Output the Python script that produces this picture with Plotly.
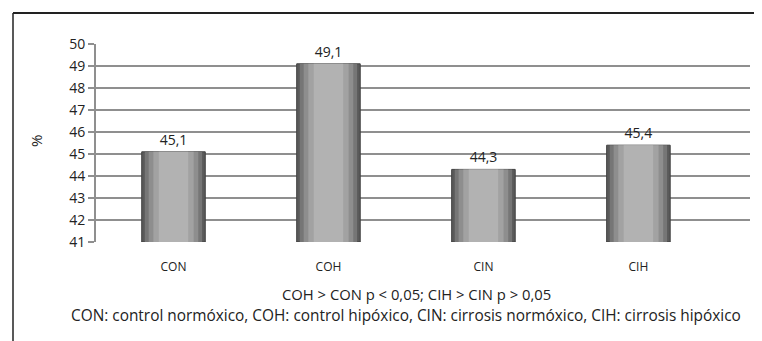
import plotly.graph_objects as go

categories = ["CON", "COH", "CIN", "CIH"]
values = [45.1, 49.1, 44.3, 45.4]
value_labels = ["45,1", "49,1", "44,3", "45,4"]
y_ticks = [41, 42, 43, 44, 45, 46, 47, 48, 49, 50]

BASE = 41
heights = [v - BASE for v in values]
xs = list(range(len(categories)))

# page body has an 8px margin; size the figure to fit the 762x341 window
OFF = 8
W, H = 762 - OFF, 341 - OFF
L, R, T, B = 96 - OFF, 12, 44 - OFF, 99
PW, PH = W - L - R, H - T - B


def px(xpix):
    return (xpix - OFF - L) / PW


def py(ypix):
    return (T + PH - (ypix - OFF)) / PH


FONT = "Open Sans"

fig = go.Figure()
layers = [
    (0.41, "#5a5a5a"),
    (0.37, "#767676"),
    (0.32, "#8e8e8e"),
    (0.26, "#a2a2a2"),
    (0.19, "#b2b2b2"),
]
for i, (w, c) in enumerate(layers):
    fig.add_trace(go.Bar(
        x=xs, y=heights, base=BASE, width=w,
        marker=dict(color=c, line=dict(color="#404040", width=1 if i == 0 else 0)),
        hoverinfo="skip", showlegend=False,
        text=value_labels if i == 0 else None,
        textposition="outside" if i == 0 else "none",
        textfont=dict(family=FONT, size=14, color="#222"),
        cliponaxis=False,
    ))

fig.update_layout(
    barmode="overlay",
    width=W, height=H,
    margin=dict(l=L, r=R, t=T, b=B, pad=0),
    paper_bgcolor="white", plot_bgcolor="white",
    font=dict(family=FONT, color="#222"),
    xaxis=dict(
        range=[-0.5, 3.72], tickvals=xs, ticktext=categories,
        showgrid=False, zeroline=False, showline=False, ticks="",
        tickfont=dict(size=12, color="#222"), ticklabelstandoff=16,
    ),
    yaxis=dict(
        range=[BASE, 50], tickvals=y_ticks, ticktext=[str(t) for t in y_ticks],
        showgrid=True, gridcolor="#8f8f8f", gridwidth=2,
        showline=True, linecolor="#8f8f8f", linewidth=2,
        ticks="outside", ticklen=6, tickcolor="#8f8f8f", tickwidth=2,
        tickfont=dict(size=14, color="#222"), zeroline=False,
    ),
    shapes=[
        dict(type="line", xref="paper", yref="paper", x0=px(13), x1=px(775), y0=py(13), y1=py(13),
             line=dict(color="#222", width=2)),
        dict(type="line", xref="paper", yref="paper", x0=px(13), x1=px(13), y0=py(13), y1=py(350),
             line=dict(color="#222", width=1.5)),
    ],
    annotations=[
        dict(text="%", xref="paper", yref="paper", x=px(36), y=py(141),
             xanchor="center", yanchor="middle",
             showarrow=False, textangle=-90, font=dict(size=15, color="#222")),
        dict(text="COH &gt; CON p &lt; 0,05; CIH &gt; CIN p &gt; 0,05", xref="paper", yref="paper",
             x=px(416), y=py(294), xanchor="center", yanchor="middle", showarrow=False,
             font=dict(size=14.8, color="#222")),
        dict(text="CON: control normóxico, COH: control hipóxico, CIN: cirrosis normóxico, CIH: cirrosis hipóxico",
             xref="paper", yref="paper",
             x=px(406), y=py(315), xanchor="center", yanchor="middle", showarrow=False,
             font=dict(size=15.4, color="#222")),
    ],
)

fig.write_html("out.html")
